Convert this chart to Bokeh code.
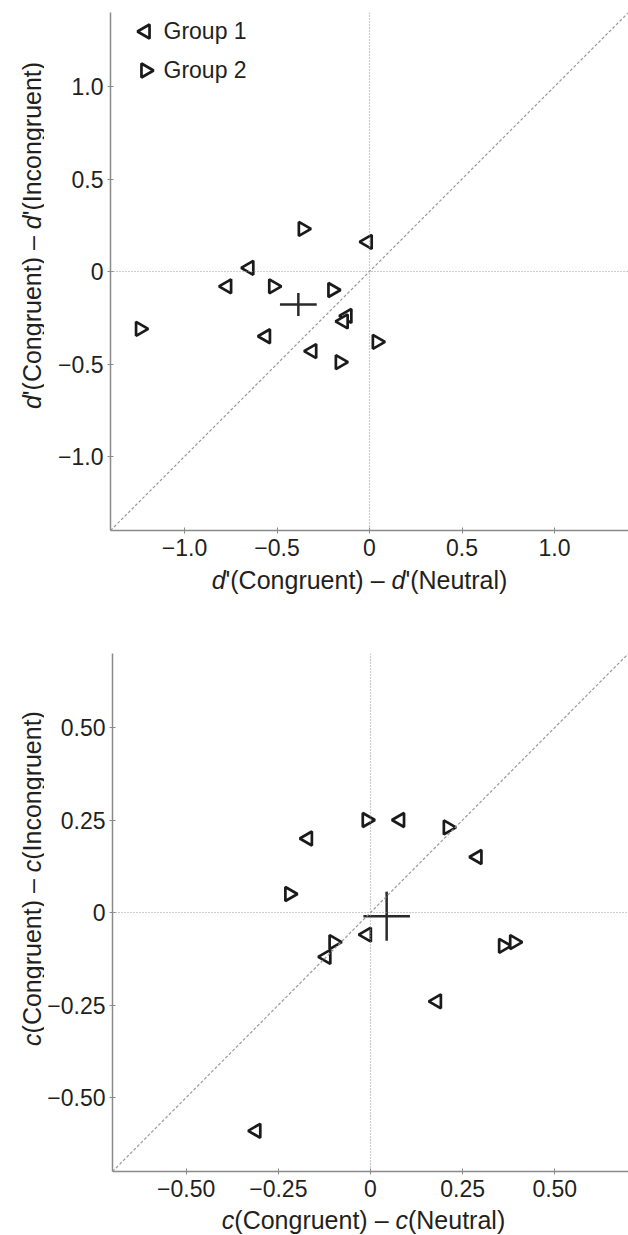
import numpy as np
from bokeh.plotting import figure
from bokeh.models import Span, Slope, FixedTicker, Range1d, ColumnDataSource, Label
from bokeh.core.properties import value
from bokeh.layouts import column, row
from bokeh.embed import file_html
from bokeh.resources import INLINE

# ---------------- data ----------------
# Top panel: d'(Congruent) - d'(Neutral)  vs  d'(Congruent) - d'(Incongruent)
dp_g1_x = [-0.01, -0.65, -0.77, -0.12, -0.14, -0.56, -0.31]
dp_g1_y = [0.16, 0.02, -0.08, -0.24, -0.27, -0.35, -0.43]
dp_g2_x = [-0.36, -0.52, -0.20, -1.24, 0.04, -0.16]
dp_g2_y = [0.23, -0.08, -0.10, -0.31, -0.38, -0.49]
dp_ticks = [-1.0, -0.5, 0.0, 0.5, 1.0]
dp_tick_labels = ["\u22121.0", "\u22120.5", "0", "0.5", "1.0"]

# Bottom panel: c(Congruent) - c(Neutral)  vs  c(Congruent) - c(Incongruent)
c_g1_x = [0.08, -0.17, 0.29, -0.01, -0.12, 0.18, -0.31]
c_g1_y = [0.25, 0.20, 0.15, -0.06, -0.12, -0.24, -0.59]
c_g2_x = [-0.01, 0.21, -0.22, -0.10, 0.36, 0.39]
c_g2_y = [0.25, 0.23, 0.05, -0.08, -0.09, -0.08]
c_ticks = [-0.5, -0.25, 0.0, 0.25, 0.5]
c_tick_labels = ["\u22120.50", "\u22120.25", "0", "0.25", "0.50"]

group_labels = ["Group 1", "Group 2"]

FONT = "Liberation Sans"
TXT = "#231f20"
AXC = "#8a8a8a"
REF = "#9a9a9a"
MK = "#1a1a1a"
TICK_FS = 23
LAB_FS = 25

# Arial / Liberation Sans advance widths (1/1000 em), used to lay out mixed-style labels
W = {" ": 278, "'": 191, "(": 333, ")": 333, "\u2013": 556, "C": 722, "I": 278,
     "N": 722, "a": 556, "c": 500, "d": 556, "e": 556, "g": 556, "l": 222,
     "n": 556, "o": 556, "r": 333, "t": 278, "u": 556}


def tw(s, size):
    return sum(W.get(ch, 556) for ch in s) / 1000.0 * size


FRAME = 518
LEFT = 66
YLAB_W = 44
MAIN_W = 628 - YLAB_W


def label_fig(width, height, segs, size, horizontal, cx, cy):
    """segs: list of (text, italic, gap_before); pieces placed in screen pixels."""
    f = figure(width=width, height=height, x_range=Range1d(0, 1),
               y_range=Range1d(0, 1), output_backend="svg",
               toolbar_location=None, x_axis_type=None, y_axis_type=None,
               min_border=0, title=None)
    f.outline_line_color = None
    f.grid.visible = False
    f.background_fill_color = "white"
    f.border_fill_color = "white"
    gap = tw(" ", size)
    total = sum(tw(s, size) + (gap if g else 0) for s, _, g in segs)
    pos = -total / 2.0
    for s, it, g in segs:
        if g:
            pos += gap
        if horizontal:
            x, y, ang = cx + pos, cy, 0.0
        else:
            x, y, ang = cx, cy + pos, np.pi / 2
        f.add_layout(Label(x=x, y=y, x_units="screen", y_units="screen",
                           text=s, angle=ang, text_font=FONT,
                           text_font_size=f"{size}px",
                           text_font_style="italic" if it else "normal",
                           text_align="left", text_baseline="middle",
                           text_color=TXT))
        pos += tw(s, size)
    return f


def make_panel(g1x, g1y, g2x, g2y, lim, ticks, tick_labels,
               border_top, border_bottom, legend):
    p = figure(width=MAIN_W, height=border_top + FRAME + border_bottom,
               x_range=Range1d(-lim, lim), y_range=Range1d(-lim, lim),
               output_backend="svg", toolbar_location=None, title=None,
               min_border_left=LEFT, min_border_right=0,
               min_border_top=border_top, min_border_bottom=border_bottom)
    p.outline_line_color = None
    p.grid.visible = False
    p.background_fill_color = "white"
    p.border_fill_color = "white"

    for ax in (p.xaxis[0], p.yaxis[0]):
        ax.ticker = FixedTicker(ticks=ticks)
        ax.major_label_overrides = {float(t): l for t, l in zip(ticks, tick_labels)}
        ax.minor_tick_line_color = None
        ax.axis_line_color = AXC
        ax.axis_line_width = 1.5
        ax.major_tick_line_color = AXC
        ax.major_tick_in = 3
        ax.major_tick_out = 3
        ax.major_label_text_font = FONT
        ax.major_label_text_font_size = f"{TICK_FS}px"
        ax.major_label_text_color = TXT
    p.xaxis[0].major_label_standoff = 5
    p.yaxis[0].major_label_standoff = 4

    # reference lines
    p.add_layout(Span(location=0, dimension="width", line_color=REF,
                      line_dash="1 2", line_width=1.2))
    p.add_layout(Span(location=0, dimension="height", line_color=REF,
                      line_dash="1 2", line_width=1.2))
    p.add_layout(Slope(gradient=1, y_intercept=0, line_color=REF,
                       line_dash="3 2", line_width=1.2))

    mk = dict(marker="triangle", size=14, fill_color="white", line_color=MK,
              line_width=2.7)
    s1 = ColumnDataSource(dict(x=g1x, y=g1y))
    s2 = ColumnDataSource(dict(x=g2x, y=g2y))
    p.scatter("x", "y", source=s1, angle=np.pi / 2, **mk)
    p.scatter("x", "y", source=s2, angle=-np.pi / 2, **mk)

    # mean +/- SEM cross
    ax_all = np.array(g1x + g2x)
    ay_all = np.array(g1y + g2y)
    n = len(ax_all)
    mx, my = ax_all.mean(), ay_all.mean()
    sx = ax_all.std(ddof=1) / np.sqrt(n)
    sy = ay_all.std(ddof=1) / np.sqrt(n)
    p.segment(x0=[mx - sx, mx], y0=[my, my - sy], x1=[mx + sx, mx], y1=[my, my + sy],
              line_color="#2a2a2a", line_width=2.5)

    if legend:
        ppu = FRAME / (2.0 * lim)   # pixels per data unit
        # legend placed by pixel offsets from the frame's top-left corner
        mxp, txp = 35, 53
        rows_px = [19, 58]
        for lab, ang, ry in zip(group_labels, [np.pi / 2, -np.pi / 2], rows_px):
            lx = -lim + mxp / ppu
            ly = lim - ry / ppu
            p.scatter(x=[lx], y=[ly], angle=ang, **mk)
            p.text(x=[-lim + txp / ppu], y=[lim - (ry - 1) / ppu], text=[lab],
                   text_font=value(FONT), text_font_size=value(f"{TICK_FS}px"),
                   text_align=value("left"), text_baseline=value("middle"),
                   text_color=TXT)
    return p


TOP_BT, TOP_BB = 12, 36
BOT_BT, BOT_BB = 45, 34
top_h = TOP_BT + FRAME + TOP_BB
bot_h = BOT_BT + FRAME + BOT_BB

top = make_panel(dp_g1_x, dp_g1_y, dp_g2_x, dp_g2_y, 1.4, dp_ticks, dp_tick_labels,
                 TOP_BT, TOP_BB, True)
bottom = make_panel(c_g1_x, c_g1_y, c_g2_x, c_g2_y, 0.7, c_ticks, c_tick_labels,
                    BOT_BT, BOT_BB, False)


def segs_for(sym, cond):
    prime = "'" if sym == "d" else ""
    return [(sym, True, False), (prime + "(Congruent)", False, False),
            ("\u2013", False, True), (sym, True, True), (prime + "(" + cond + ")", False, False)]


x_center = YLAB_W + LEFT + FRAME / 2.0
top_ylab = label_fig(YLAB_W, top_h, segs_for("d", "Incongruent"),
                     LAB_FS, False, 31, TOP_BB + FRAME / 2.0)
top_xlab = label_fig(628, 42, segs_for("d", "Neutral"),
                     LAB_FS, True, x_center - 10, 29)
bot_ylab = label_fig(YLAB_W, bot_h, segs_for("c", "Incongruent"),
                     LAB_FS, False, 31, BOT_BB + FRAME / 2.0)
bot_xlab = label_fig(628, 29, segs_for("c", "Neutral"),
                     LAB_FS, True, x_center - 6, 15)

layout = column(row(top_ylab, top, spacing=0), top_xlab,
                row(bot_ylab, bottom, spacing=0), bot_xlab, spacing=0)
open("out.html", "w").write(file_html(layout, INLINE))
